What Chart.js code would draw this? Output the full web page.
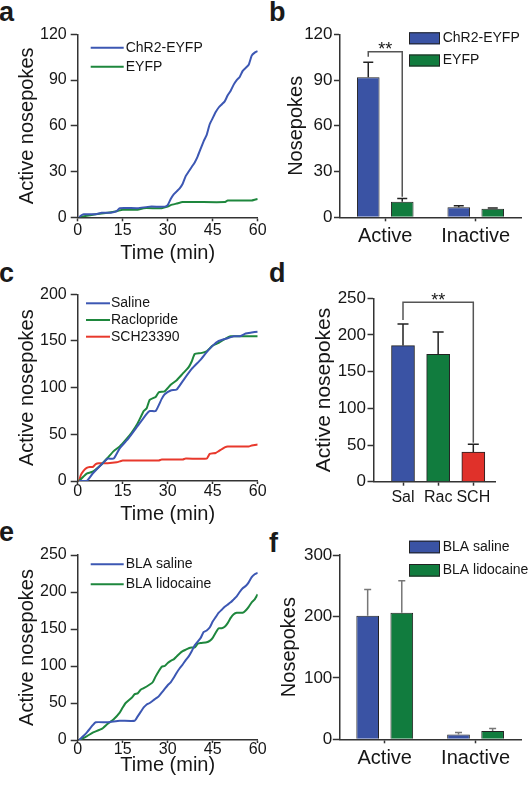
<!DOCTYPE html>
<html>
<head>
<meta charset="utf-8">
<script src="https://cdn.jsdelivr.net/npm/chart.js@4.4.1/dist/chart.umd.min.js"></script>
<style>
body { margin: 0; background: #fff; width: 531px; height: 785px; position: relative; overflow: hidden; font-family: "Liberation Sans", Arial, sans-serif; }
.panel { position: absolute; }
.tag { position: absolute; font-weight: bold; font-size: 27px; line-height: 1; color: #1a1a1a; }
</style>
</head>
<body>
<div class="tag" style="left:-1px;top:-1px">a</div>
<div class="tag" style="left:269px;top:-1px">b</div>
<div class="tag" style="left:-1px;top:260px">c</div>
<div class="tag" style="left:269px;top:260px">d</div>
<div class="tag" style="left:-1px;top:519px">e</div>
<div class="tag" style="left:269px;top:530px">f</div>
<script>
// panel a - cumulative active nosepokes [min, count]
var aChR2 = [[0.5,0],[1,1],[2,2],[6,2],[8,3],[11,3],[13,4],[14,6],[20,6],[24,7],[29,7],[30,8],[31,12],[32,15],[33,17],[34,19],[35,22],[36,27],[37,30],[38,33],[39,36],[40,40],[41,45],[42,50],[43,54],[44,61],[45,65],[46,69],[47,72],[48,74],[49,76],[50,80],[51,83],[52,87],[53,90],[54,92],[55,96],[56,98],[57,100],[58,106],[59,108],[60,109]];
var aEYFP = [[0.5,0],[3,1],[6,2],[10,3],[13,4],[15,5],[20,5],[22,6],[28,6],[30,7],[31,8],[33,9],[35,10],[40,10],[49,10],[50,11],[58,11],[60,12]];

// panel b
var bLabels = ['Active', 'Inactive'];
var bChR2 = [91.8, 6.6];
var bChR2Sem = [9.8, 1.0];
var bEYFP = [10.2, 5.6];
var bEYFPSem = [2.2, 0.5];

// panel c
var cSaline = [[0.5,0],[3,0],[5,8],[8,18],[10,24],[12,24],[14,35],[17,46],[20,59],[23,72],[24,75],[26,75],[28,88],[29,93],[31,97],[33,98],[35,107],[38,120],[41,130],[43,138],[45,145],[47,150],[50,153],[52,155],[54,155],[56,158],[58,159],[60,160]];
var cRaclo = [[0.5,0],[2,5],[3,8],[5,10],[8,18],[10,25],[12,32],[14,37],[16,44],[18,52],[20,62],[22,75],[23,78],[24,87],[26,90],[27,95],[29,96],[31,103],[33,108],[35,115],[37,122],[38,128],[39,136],[41,137],[43,139],[45,145],[47,148],[49,152],[51,155],[55,155],[60,155]];
var cSCH = [[0.5,0],[1,6],[2,11],[3,14],[4,15],[5,15],[6,18],[7,19],[10,19],[13,20],[14,21],[15,22],[27,22],[28,23],[35,23],[36,24],[43,24],[44,29],[46,30],[47,32],[48,34],[49,36],[50,37],[57,37],[58,38],[60,39]];

// panel d
var dLabels = ['Sal', 'Rac', 'SCH'];
var dVals = [185.5, 173.6, 40.5];
var dSem = [29.5, 30.4, 10.5];

// panel e
var eSaline = [[0.5,0],[3,10],[5,20],[6,24],[10,24],[14,26],[19,26],[20,32],[21,38],[22,44],[23,48],[24,50],[25,53],[26,56],[27,59],[28,64],[29,69],[30,74],[31,78],[32,84],[33,91],[34,97],[35,102],[36,108],[37,113],[38,120],[39,128],[40,133],[41,138],[42,146],[43,148],[44,152],[45,160],[46,166],[47,172],[48,176],[49,180],[50,183],[51,186],[52,190],[53,194],[54,200],[55,205],[56,208],[57,213],[58,220],[59,224],[60,226]];
var eLido = [[0.5,0],[3,5],[5,10],[8,15],[10,22],[12,28],[14,37],[15,44],[16,50],[18,57],[19,62],[20,63],[21,68],[22,70],[24,75],[25,78],[26,86],[27,93],[28,99],[29,100],[30,104],[31,107],[32,109],[33,113],[34,117],[35,120],[36,122],[37,124],[38,125],[39,125],[40,130],[41,131],[43,132],[44,134],[45,138],[46,145],[47,151],[48,151],[49,153],[50,158],[51,165],[52,170],[53,172],[55,172],[56,175],[57,180],[58,186],[59,190],[60,197]];

// panel f
var fLabels = ['Active', 'Inactive'];
var fSaline = [201, 8];
var fSalineSem = [43, 3];
var fLido = [206, 13.6];
var fLidoSem = [52, 3.8];

var INK = '#161616';
var AXIS = '#333';
var BLUE_L = '#3c57b3', GREEN_L = '#1e873d', RED_L = '#e8392c';
var BLUE_B = '#3a53a4', GREEN_B = '#117c3e', RED_B = '#e0312a';

Chart.defaults.font.family = '"Liberation Sans", Arial, sans-serif';
Chart.defaults.color = INK;

function pts(arr) {
    return arr.map(function (p) { return {x: p[0], y: p[1]}; });
}

// works out padding / axis sizes so the plot area lands where it should
function place(p) {
    var padLeft = p.yTitleX - p.yTitleSize * 0.6 - p.left;
    p.height = Math.round(p.y1 + p.xH - p.top);
    p.padding = {left: padLeft, top: p.y0 - p.top, right: p.left + p.width - p.x1, bottom: p.top + p.height - p.y1 - p.xH};
    p.yWidth = p.x0 - p.left - padLeft;
    return p;
}

var errorBars = {
    id: 'errorBars',
    afterDatasetsDraw: function (chart, args, o) {
        if (!o || !o.color) return;
        var ctx = chart.ctx, ys = chart.scales.y;
        ctx.save();
        ctx.strokeStyle = o.color;
        ctx.lineWidth = 1.5;
        chart.data.datasets.forEach(function (ds, i) {
            if (!ds.sem) return;
            var meta = chart.getDatasetMeta(i);
            meta.data.forEach(function (bar, j) {
                var v = meta.controller.getParsed(j).y;
                var top = ys.getPixelForValue(v + ds.sem[j]);
                ctx.beginPath();
                ctx.moveTo(bar.x, bar.y);
                ctx.lineTo(bar.x, top);
                ctx.moveTo(bar.x - o.cap / 2, top);
                ctx.lineTo(bar.x + o.cap / 2, top);
                ctx.stroke();
            });
        });
        ctx.restore();
    }
};

var bracket = {
    id: 'bracket',
    afterDatasetsDraw: function (chart, args, o) {
        if (!o || !o.text) return;
        var ctx = chart.ctx, ys = chart.scales.y;
        var xa = chart.getDatasetMeta(o.from[0]).data[o.from[1]].x;
        var xb = chart.getDatasetMeta(o.to[0]).data[o.to[1]].x;
        var yl = ys.getPixelForValue(o.y);
        ctx.save();
        ctx.strokeStyle = '#555';
        ctx.lineWidth = 1.5;
        ctx.beginPath();
        ctx.moveTo(xa, ys.getPixelForValue(o.yFrom));
        ctx.lineTo(xa, yl);
        ctx.lineTo(xb, yl);
        ctx.lineTo(xb, ys.getPixelForValue(o.yTo));
        ctx.stroke();
        ctx.fillStyle = INK;
        ctx.font = '18px "Liberation Sans", Arial, sans-serif';
        ctx.textAlign = 'center';
        ctx.textBaseline = 'alphabetic';
        ctx.fillText(o.text, (xa + xb) / 2, yl + 3.5);
        ctx.restore();
    }
};

var keyDraw = {
    id: 'keyDraw',
    afterDraw: function (chart, args, o) {
        if (!o || !o.kind) return;
        var ctx = chart.ctx, ca = chart.chartArea;
        ctx.save();
        ctx.font = '14px "Liberation Sans", Arial, sans-serif';
        ctx.textBaseline = 'middle';
        chart.data.datasets.forEach(function (ds, i) {
            var x = ca.left + o.x, y = ca.top + o.y + i * o.dy;
            if (o.kind === 'line') {
                ctx.strokeStyle = ds.borderColor;
                ctx.lineWidth = 2;
                ctx.beginPath();
                ctx.moveTo(x, y);
                ctx.lineTo(x + o.w, y);
                ctx.stroke();
            } else {
                ctx.fillStyle = ds.backgroundColor;
                ctx.fillRect(x, y - o.h / 2, o.w, o.h);
                ctx.strokeStyle = '#222';
                ctx.lineWidth = 1;
                ctx.strokeRect(x + 0.5, y - o.h / 2 + 0.5, o.w - 1, o.h - 1);
            }
            ctx.fillStyle = INK;
            ctx.fillText(ds.label, x + o.w + o.gap, y);
        });
        ctx.restore();
    }
};

function yAxis(p, min, max, step, title, tl, pad, size) {
    return {
        min: min, max: max,
        border: {color: AXIS, width: 1.5},
        grid: {drawOnChartArea: false, tickLength: tl, tickWidth: 1.5, tickColor: AXIS},
        ticks: {stepSize: step, padding: pad, color: INK, font: {size: size}},
        title: {display: true, text: title, color: INK, font: {size: p.yTitleSize}, padding: 0},
        afterFit: function (s) { s.width = p.yWidth; }
    };
}

function timeAxis(p, tl, pad) {
    return {
        type: 'linear', min: 0, max: 60,
        border: {color: AXIS, width: 1.5},
        grid: {drawOnChartArea: false, tickLength: tl, tickWidth: 1.5, tickColor: AXIS},
        ticks: {stepSize: 15, padding: pad, color: INK, font: {size: 16}},
        title: {display: true, text: 'Time (min)', color: INK, font: {size: 20}, padding: 0},
        afterFit: function (s) { s.height = p.xH; }
    };
}

function catAxis(p, size, pad) {
    return {
        type: 'category', offset: true,
        border: {color: AXIS, width: 1.5},
        grid: {offset: false, drawOnChartArea: false, tickLength: 4, tickWidth: 1.5, tickColor: AXIS},
        ticks: {padding: pad, color: INK, font: {size: size}},
        afterFit: function (s) { s.height = p.xH; }
    };
}

function lineSet(label, data, color) {
    return {label: label, data: pts(data), borderColor: color, backgroundColor: color,
        borderWidth: 2, pointRadius: 0, tension: 0.15, fill: false};
}

function barSet(label, data, sem, color) {
    return {label: label, data: data, sem: sem, backgroundColor: color, borderColor: '#222',
        borderWidth: 1, categoryPercentage: 0.751, barPercentage: 0.665};
}

function makeChart(p, cfg) {
    var wrap = document.createElement('div');
    wrap.className = 'panel';
    wrap.style.left = p.left + 'px';
    wrap.style.top = p.top + 'px';
    wrap.style.width = p.width + 'px';
    wrap.style.height = p.height + 'px';
    var cv = document.createElement('canvas');
    wrap.appendChild(cv);
    document.body.appendChild(wrap);
    cfg.options.responsive = true;
    cfg.options.maintainAspectRatio = false;
    cfg.options.animation = false;
    cfg.options.layout = {padding: p.padding};
    cfg.options.plugins.legend = {display: false};
    cfg.options.plugins.tooltip = {enabled: false};
    cfg.plugins = [errorBars, bracket, keyDraw];
    return new Chart(cv, cfg);
}

// a
var pa = place({left: 0, top: 0, width: 270, x0: 77.7, x1: 257.7, y0: 34.3, y1: 217.3, yTitleX: 27.5, yTitleSize: 20, xH: 47.7});
makeChart(pa, {
    type: 'line',
    data: {datasets: [lineSet('ChR2-EYFP', aChR2, BLUE_L), lineSet('EYFP', aEYFP, GREEN_L)]},
    options: {
        scales: {x: timeAxis(pa, 4, 0), y: yAxis(pa, 0, 120, 30, 'Active nosepokes', 7, 4, 16)},
        plugins: {keyDraw: {kind: 'line', x: 13, y: 13.4, dy: 19, w: 33, gap: 2}}
    }
});

// b
var pb = place({left: 265, top: 0, width: 266, x0: 340, x1: 521, y0: 34.3, y1: 217.3, yTitleX: 296.7, yTitleSize: 20, xH: 35});
makeChart(pb, {
    type: 'bar',
    data: {labels: bLabels, datasets: [barSet('ChR2-EYFP', bChR2, bChR2Sem, BLUE_B), barSet('EYFP', bEYFP, bEYFPSem, GREEN_B)]},
    options: {
        scales: {x: catAxis(pb, 20, 3), y: yAxis(pb, 0, 120, 30, 'Nosepokes', 6, 1.5, 17)},
        plugins: {
            errorBars: {color: '#222', cap: 10},
            bracket: {from: [0, 0], to: [1, 0], y: 108.6, yFrom: 105.3, yTo: 13.5, text: '**'},
            keyDraw: {kind: 'box', x: 69, y: 4, dy: 22.2, w: 31, h: 12, gap: 2.7}
        }
    }
});

// c
var pc = place({left: 0, top: 262, width: 270, x0: 77.7, x1: 257.7, y0: 294.3, y1: 481, yTitleX: 27.5, yTitleSize: 20, xH: 45});
makeChart(pc, {
    type: 'line',
    data: {datasets: [lineSet('Saline', cSaline, BLUE_L), lineSet('Raclopride', cRaclo, GREEN_L), lineSet('SCH23390', cSCH, RED_L)]},
    options: {
        scales: {x: timeAxis(pc, 3, -2), y: yAxis(pc, 0, 200, 50, 'Active nosepokes', 7, 4, 16)},
        plugins: {keyDraw: {kind: 'line', x: 8.3, y: 9, dy: 16.7, w: 24, gap: 1}}
    }
});

// d - linear index axis so the bars sit where they do in the figure
var pd = place({left: 265, top: 262, width: 266, x0: 374, x1: 495, y0: 298.3, y1: 481.7, yTitleX: 324.7, yTitleSize: 21, xH: 30});
makeChart(pd, {
    type: 'bar',
    data: {datasets: [{
        label: 'Active',
        data: dVals.map(function (v, i) { return {x: i + 1, y: v}; }),
        sem: dSem,
        backgroundColor: [BLUE_B, GREEN_B, RED_B],
        borderColor: '#222', borderWidth: 1, barThickness: 23
    }]},
    options: {
        scales: {
            x: {
                type: 'linear', min: 0.175, max: 3.617, offset: false,
                border: {color: AXIS, width: 1.5},
                grid: {offset: false, drawOnChartArea: false, tickLength: 4, tickWidth: 1.5, tickColor: AXIS},
                afterBuildTicks: function (s) { s.ticks = dLabels.map(function (l, i) { return {value: i + 1}; }); },
                ticks: {padding: 2.5, color: INK, font: {size: 16}, callback: function (v) { return dLabels[v - 1]; }},
                afterFit: function (s) { s.height = pd.xH; }
            },
            y: yAxis(pd, 0, 250, 50, 'Active nosepokes', 6.5, 1.5, 17)
        },
        plugins: {
            errorBars: {color: '#222', cap: 11},
            bracket: {from: [0, 0], to: [0, 2], y: 244.5, yFrom: 220.5, yTo: 53, text: '**'}
        }
    }
});

// e
var pe = place({left: 0, top: 522, width: 270, x0: 77.7, x1: 257.7, y0: 555, y1: 740, yTitleX: 27.5, yTitleSize: 20, xH: 37});
makeChart(pe, {
    type: 'line',
    data: {datasets: [lineSet('BLA saline', eSaline, BLUE_L), lineSet('BLA lidocaine', eLido, GREEN_L)]},
    options: {
        scales: {x: timeAxis(pe, 3, -3), y: yAxis(pe, 0, 250, 50, 'Active nosepokes', 7, 4, 16)},
        plugins: {keyDraw: {kind: 'line', x: 13, y: 9.3, dy: 20, w: 33, gap: 2}}
    }
});

// f
var pf = place({left: 265, top: 522, width: 266, x0: 339.3, x1: 521, y0: 555, y1: 739.3, yTitleX: 289, yTitleSize: 20, xH: 35});
makeChart(pf, {
    type: 'bar',
    data: {labels: fLabels, datasets: [barSet('BLA saline', fSaline, fSalineSem, BLUE_B), barSet('BLA lidocaine', fLido, fLidoSem, GREEN_B)]},
    options: {
        scales: {x: catAxis(pf, 20, 3), y: yAxis(pf, 0, 300, 100, 'Nosepokes', 6.5, 0.5, 17)},
        plugins: {
            errorBars: {color: '#777', cap: 7},
            keyDraw: {kind: 'box', x: 69.7, y: -8, dy: 23.3, w: 31, h: 12.6, gap: 2.7}
        }
    }
});
</script>
</body>
</html>
